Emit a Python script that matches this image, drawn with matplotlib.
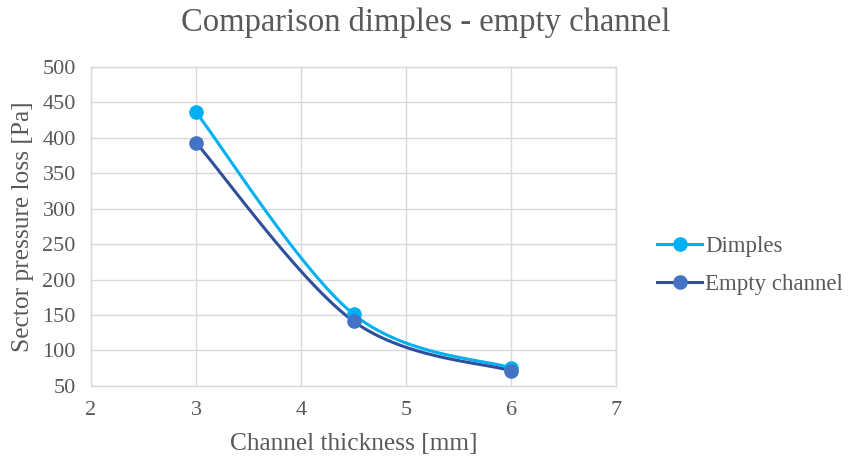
import numpy as np
import matplotlib
matplotlib.use("Agg")
from matplotlib import pyplot as plt

# data
thickness = [3.0, 4.5, 6.0]
dimples = [436, 151, 75]
empty_channel = [393, 141, 71]

x_ticks = [2, 3, 4, 5, 6, 7]
y_ticks = [50, 100, 150, 200, 250, 300, 350, 400, 450, 500]

TEXT = "#595959"
GRID = "#D9D9D9"


def smooth(xs, ys, steps=40):
    # Excel-style smoothed line: Bezier segments with Catmull-Rom tangents (/6)
    p = np.column_stack([xs, ys]).astype(float)
    n = len(p)
    out = []
    for i in range(n - 1):
        p0 = p[max(i - 1, 0)]
        p1 = p[i]
        p2 = p[i + 1]
        p3 = p[min(i + 2, n - 1)]
        c1 = p1 + (p2 - p0) / 6.0
        c2 = p2 - (p3 - p1) / 6.0
        t = np.linspace(0, 1, steps)[:, None]
        seg = ((1 - t) ** 3) * p1 + 3 * ((1 - t) ** 2) * t * c1 \
            + 3 * (1 - t) * t ** 2 * c2 + t ** 3 * p2
        out.append(seg if i == 0 else seg[1:])
    pts = np.vstack(out)
    return pts[:, 0], pts[:, 1]


plt.rcParams['font.family'] = ['Liberation Serif', 'DejaVu Serif']

fig = plt.figure(figsize=(8.51, 4.62), dpi=100)
ax = fig.add_axes([0.107, 0.165, 0.617, 0.690])

series = [
    ("Dimples", dimples, "#00B0F0", "#00B0F0"),
    ("Empty channel", empty_channel, "#2F4F9A", "#4472C4"),
]
for name, vals, line_col, mark_col in series:
    sx, sy = smooth(thickness, vals)
    ax.plot(sx, sy, color=line_col, lw=2.2, solid_capstyle='round', zorder=3)
    ax.plot(thickness, vals, ls='none', marker='o', ms=9.5,
            color=mark_col, zorder=4)
    # legend proxy
    ax.plot([], [], color=line_col, lw=2.2, marker='o', ms=9.5,
            markerfacecolor=mark_col, markeredgecolor=mark_col, label=name)

ax.set_xlim(2, 7)
ax.set_ylim(50, 500)
ax.set_xticks(x_ticks)
ax.set_yticks(y_ticks)
ax.grid(True, color=GRID, lw=1)
ax.set_axisbelow(True)
for s in ax.spines.values():
    s.set_color(GRID)
    s.set_linewidth(1)
ax.tick_params(length=0, labelsize=16, colors=TEXT)
ax.tick_params(axis='x', pad=11)
ax.tick_params(axis='y', pad=11)

ax.set_xlabel("Channel thickness [mm]", fontsize=18.3, color=TEXT, labelpad=9)
ax.set_ylabel("Sector pressure loss [Pa]", fontsize=18.3, color=TEXT, labelpad=6)
fig.suptitle("Comparison dimples - empty channel", fontsize=23.5, color=TEXT,
             y=0.985)

fig.legend(loc='center left', bbox_to_anchor=(0.748, 0.425), frameon=False,
           fontsize=16.5, labelcolor=TEXT, handlelength=1.95, handletextpad=0.15,
           labelspacing=0.75)

fig.savefig("out.png", dpi=100)
